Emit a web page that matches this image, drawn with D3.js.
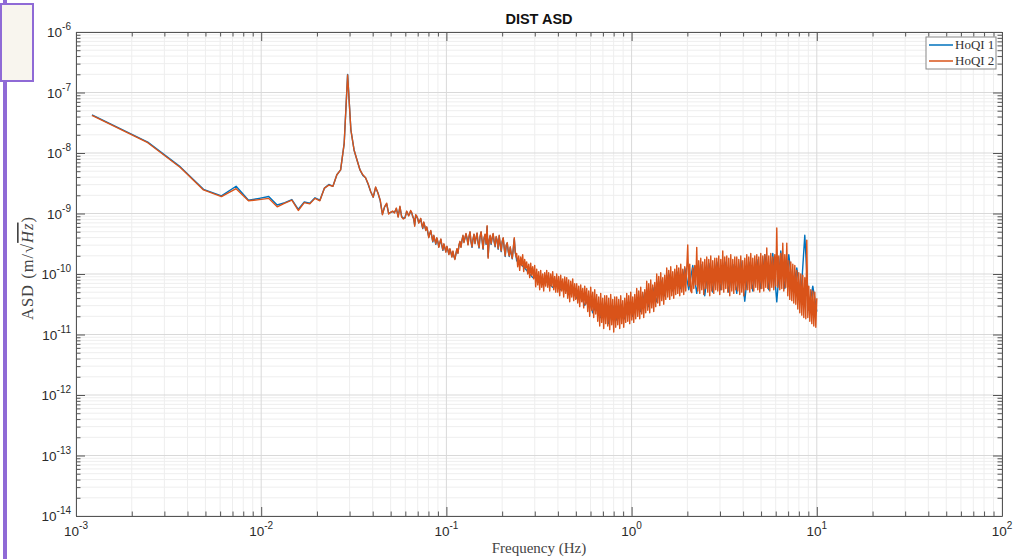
<!DOCTYPE html>
<html>
<head>
<meta charset="utf-8">
<script src="https://cdn.jsdelivr.net/npm/d3@7"></script>
<style>
    html, body { margin: 0; padding: 0; background: #fff; }
    svg { display: block; }
</style>
</head>
<body>
<div id="chart"></div>
<script>
// spectrum bin width (Hz)
const DF = 0.00122;

// first 49 bins (f = n * DF), log10 of ASD in m/sqrt(Hz)
const hoqi1Low = [
    -7.37, -7.82, -8.23, -8.60, -8.71, -8.55, -8.78, -8.75, -8.72, -8.86,
    -8.82, -8.77, -8.93, -8.81, -8.83, -8.74, -8.78, -8.58, -8.52, -8.55,
    -8.36, -8.28, -7.84, -6.70, -7.62, -7.95, -8.12, -8.28, -8.37, -8.41,
    -8.52, -8.64, -8.73, -8.57, -8.66, -8.79, -9.01, -8.89, -8.84, -9.00,
    -8.98, -8.97, -8.98, -8.92, -9.05, -8.89, -9.05, -9.08, -9.07
];
const hoqi2Low = [
    -7.38, -7.83, -8.24, -8.61, -8.72, -8.59, -8.79, -8.77, -8.75, -8.89,
    -8.83, -8.78, -8.95, -8.82, -8.84, -8.75, -8.79, -8.58, -8.53, -8.55,
    -8.36, -8.28, -7.84, -6.71, -7.62, -7.95, -8.12, -8.28, -8.36, -8.41,
    -8.51, -8.64, -8.73, -8.56, -8.66, -8.78, -9.02, -8.89, -8.83, -9.01,
    -8.98, -8.96, -8.99, -8.91, -9.06, -8.88, -9.06, -9.09, -9.07
];

// denser parts, each spread evenly in log f over its range (log10 ASD)
const MID_RANGE = [0.0610, 0.2384];
const HIGH_RANGE = [0.2396, 10];

const hoqi1Mid = [
    -8.97, -9.00, -9.03, -9.01, -8.96, -8.99, -9.04, -9.09, -9.19, -9.03,
    -9.05, -9.09, -9.15, -9.13, -9.09, -9.17, -9.25, -9.15, -9.21, -9.27,
    -9.23, -9.31, -9.39, -9.34, -9.29, -9.37, -9.47, -9.37, -9.43, -9.51,
    -9.41, -9.47, -9.55, -9.49, -9.43, -9.53, -9.61, -9.51, -9.57, -9.63,
    -9.55, -9.61, -9.67, -9.59, -9.65, -9.71, -9.63, -9.71, -9.75, -9.67,
    -9.59, -9.65, -9.53, -9.47, -9.55, -9.45, -9.37, -9.47, -9.41, -9.34,
    -9.41, -9.51, -9.39, -9.31, -9.47, -9.56, -9.43, -9.35, -9.49, -9.41,
    -9.33, -9.49, -9.57, -9.39, -9.31, -9.45, -9.59, -9.41, -9.35, -9.51,
    -9.22, -9.72, -9.45, -9.37, -9.51, -9.41, -9.34, -9.47, -9.55, -9.39,
    -9.45, -9.59, -9.37, -9.51, -9.63, -9.47, -9.41, -9.57, -9.71, -9.53,
    -9.49, -9.63, -9.71, -9.56, -9.67, -9.75, -9.59, -9.42, -9.65, -9.73
];
const hoqi1High = [
    -9.78, -9.84,
    -9.90, -9.98, -10.06, -10.04, -10.14, -10.10, -10.16, -10.22, -10.18, -10.26,
    -10.20, -10.34, -10.28, -10.40, -10.34, -10.52, -10.40, -10.64, -10.50, -10.72,
    -10.48, -10.82, -10.52, -10.76, -10.50, -10.74, -10.46, -10.70, -10.40, -10.62,
    -10.30, -10.54, -10.22, -10.46, -10.10, -10.36, -10.00, -10.28, -9.96, -10.24,
    -9.90, -10.26, -9.86, -10.32, -9.84, -10.36, -9.82, -10.30, -9.80, -10.26,
    -9.80, -10.30, -9.84, -10.32, -9.78, -10.45, -9.80, -10.28, -9.76, -10.24,
    -9.68, -10.26, -9.66, -10.46, -9.62, -10.24, -9.68, -10.28, -9.90, -10.40,
    -9.36, -10.60, -10.20, -10.62
];

const hoqi2Mid = [
    -8.96, -8.99, -9.04, -9.00, -8.95, -8.98, -9.05, -9.08, -9.21, -9.02,
    -9.04, -9.08, -9.16, -9.12, -9.08, -9.18, -9.24, -9.14, -9.20, -9.28,
    -9.22, -9.30, -9.40, -9.33, -9.28, -9.38, -9.46, -9.36, -9.44, -9.50,
    -9.40, -9.46, -9.56, -9.48, -9.42, -9.52, -9.60, -9.50, -9.56, -9.64,
    -9.54, -9.60, -9.68, -9.58, -9.64, -9.72, -9.62, -9.70, -9.76, -9.66,
    -9.58, -9.66, -9.52, -9.46, -9.56, -9.44, -9.36, -9.48, -9.40, -9.33,
    -9.40, -9.52, -9.38, -9.30, -9.46, -9.55, -9.42, -9.34, -9.50, -9.40,
    -9.32, -9.48, -9.56, -9.38, -9.30, -9.44, -9.58, -9.40, -9.34, -9.50,
    -9.20, -9.74, -9.44, -9.36, -9.50, -9.40, -9.33, -9.46, -9.54, -9.38,
    -9.44, -9.58, -9.36, -9.50, -9.62, -9.46, -9.40, -9.56, -9.70, -9.52,
    -9.48, -9.62, -9.70, -9.55, -9.66, -9.74, -9.58, -9.40, -9.64, -9.72
];
const hoqi2High = [
    -9.66, -9.88, -9.70, -9.94, -9.72, -9.86, -9.68, -9.96, -9.76, -9.90,
    -9.80, -10.00, -9.84, -10.06, -9.82, -10.02, -9.88, -10.08, -9.86, -10.21,
    -9.92, -10.18, -9.96, -10.26, -9.94, -10.22, -10.00, -10.28, -9.98, -10.20,
    -9.94, -10.22, -9.98, -10.28, -10.00, -10.20, -9.96, -10.26, -10.04, -10.30,
    -10.00, -10.30, -10.04, -10.36, -10.02, -10.28, -10.08, -10.38, -10.05, -10.32,
    -10.06, -10.40, -10.10, -10.46, -10.12, -10.38, -10.08, -10.44, -10.16, -10.42,
    -10.16, -10.48, -10.20, -10.54, -10.18, -10.46, -10.24, -10.56, -10.20, -10.50,
    -10.24, -10.62, -10.28, -10.70, -10.22, -10.60, -10.30, -10.72, -10.26, -10.66,
    -10.34, -10.78, -10.38, -10.86, -10.32, -10.80, -10.40, -10.90, -10.36, -10.82,
    -10.36, -10.86, -10.40, -10.92, -10.34, -10.84, -10.42, -10.96, -10.38, -10.88,
    -10.38, -10.84, -10.42, -10.90, -10.36, -10.82, -10.44, -10.88, -10.40, -10.80,
    -10.32, -10.78, -10.36, -10.82, -10.30, -10.76, -10.38, -10.80, -10.34, -10.74,
    -10.24, -10.70, -10.28, -10.74, -10.22, -10.66, -10.30, -10.72, -10.26, -10.64,
    -10.12, -10.60, -10.16, -10.64, -10.10, -10.56, -10.18, -10.62, -10.14, -10.54,
    -10.00, -10.48, -10.04, -10.52, -9.98, -10.44, -10.06, -10.50, -10.02, -10.42,
    -9.90, -10.38, -9.94, -10.42, -9.88, -10.36, -9.96, -10.40, -9.92, -10.34,
    -9.86, -10.32, -9.90, -10.36, -9.84, -10.30, -9.92, -10.34, -9.88, -10.28,
    -9.90, -9.52, -10.20, -9.84, -10.28, -10.31, -9.90, -10.24, -9.86, -10.18,
    -9.56, -10.28, -9.78, -10.32, -9.74, -10.26, -9.80, -10.34, -9.76, -10.24,
    -9.72, -10.30, -9.76, -10.36, -9.70, -10.28, -9.78, -10.32, -9.74, -10.26,
    -9.74, -10.28, -9.70, -10.34, -9.76, -10.26, -9.62, -10.30, -9.72, -10.24,
    -9.70, -10.30, -9.74, -10.36, -9.68, -10.28, -9.76, -10.32, -9.72, -10.26,
    -9.72, -10.28, -9.76, -10.34, -9.70, -10.30, -9.78, -10.36, -9.74, -10.26,
    -9.68, -10.26, -9.72, -10.30, -9.66, -10.24, -9.74, -10.28, -9.70, -10.22,
    -9.68, -10.26, -9.72, -10.30, -9.66, -10.24, -9.70, -10.28, -9.68, -10.22,
    -9.57, -10.24, -9.70, -10.28, -9.66, -10.22, -9.72, -10.26, -9.68, -10.20,
    -9.24, -10.22, -9.70, -10.26, -9.66, -10.24, -9.49, -10.28, -9.68, -10.22,
    -9.49, -10.36, -9.78, -10.42, -9.80, -10.44, -9.84, -10.48, -9.86, -10.50,
    -9.94, -10.58, -9.98, -10.64, -10.00, -10.68, -10.02, -10.72, -10.06, -10.74,
    -9.44, -10.72, -10.20, -10.78, -10.26, -10.82, -10.28, -10.86, -10.30, -10.88,
    -10.40
];

const seriesNames = ['HoQI 1', 'HoQI 2'];
const seriesColors = ['#0072BD', '#D95319'];
const xTickExps = [-3, -2, -1, 0, 1, 2];
const yTickExps = [-14, -13, -12, -11, -10, -9, -8, -7, -6];

const spread = (values, range) => {
    const n = values.length;
    return values.map((v, i) => ({
        f: range[0] * Math.pow(range[1] / range[0], i / (n - 1)),
        v: Math.pow(10, v)
    }));
};
const toPoints = (low, mid, high) => {
    const pts = low.map((v, i) => ({ f: (i + 1) * DF, v: Math.pow(10, v) }));
    return pts.concat(spread(mid, MID_RANGE), spread(high, HIGH_RANGE));
};

const series = [
    toPoints(hoqi1Low, hoqi1Mid, hoqi1High),
    toPoints(hoqi2Low, hoqi2Mid, hoqi2High)
];

const W = 1024;
const H = 559;
const plotLeft = 76, plotRight = 1002, plotTop = 32, plotBottom = 516;
const AXIS = '#555';
const TXT = '#2b2b2b';

const svg = d3.select('#chart').append('svg').attr('width', W).attr('height', H);

// slide decoration on the left
svg.append('rect').attr('x', 3).attr('y', 0).attr('width', 4).attr('height', H).attr('fill', '#8f6ad6');
svg.append('rect')
    .attr('x', 1).attr('y', 4).attr('width', 32).attr('height', 77)
    .attr('fill', '#f8f5ee').attr('stroke', '#8f6ad6').attr('stroke-width', 2);

const x = d3.scaleLog().domain([1e-3, 1e2]).range([plotLeft, plotRight]);
const y = d3.scaleLog().domain([1e-14, 1e-6]).range([plotBottom, plotTop]);

const isMajor = (d) => Math.abs(Math.log10(d) - Math.round(Math.log10(d))) < 1e-9;
const xMajor = xTickExps.map((e) => Math.pow(10, e));
const yMajor = yTickExps.map((e) => Math.pow(10, e));
const xMinor = x.ticks().filter((d) => !isMajor(d));
const yMinor = y.ticks().filter((d) => !isMajor(d));

// grid
const grid = svg.append('g');
grid.selectAll('line.xmin').data(xMinor).enter().append('line')
    .attr('x1', (d) => x(d)).attr('x2', (d) => x(d)).attr('y1', plotTop).attr('y2', plotBottom)
    .attr('stroke', '#eeeeee');
grid.selectAll('line.ymin').data(yMinor).enter().append('line')
    .attr('y1', (d) => y(d)).attr('y2', (d) => y(d)).attr('x1', plotLeft).attr('x2', plotRight)
    .attr('stroke', '#eeeeee');
grid.selectAll('line.xmaj').data(xMajor).enter().append('line')
    .attr('x1', (d) => x(d)).attr('x2', (d) => x(d)).attr('y1', plotTop).attr('y2', plotBottom)
    .attr('stroke', '#d9d9d9');
grid.selectAll('line.ymaj').data(yMajor).enter().append('line')
    .attr('y1', (d) => y(d)).attr('y2', (d) => y(d)).attr('x1', plotLeft).attr('x2', plotRight)
    .attr('stroke', '#d9d9d9');

// traces
const line = d3.line().x((d) => x(d.f)).y((d) => y(d.v));
series.forEach((pts, i) => {
    svg.append('path')
        .datum(pts)
        .attr('fill', 'none')
        .attr('stroke', seriesColors[i])
        .attr('stroke-width', 1.4)
        .attr('stroke-linejoin', 'round')
        .attr('d', line);
});

// axes: ticks inward on all four sides
const drawAxis = (axisFn, scale, transform) => {
    const gMaj = svg.append('g').attr('transform', transform)
        .call(axisFn(scale).tickValues(scale === x ? xMajor : yMajor).tickSize(-9).tickSizeOuter(0).tickFormat(''));
    const gMin = svg.append('g').attr('transform', transform)
        .call(axisFn(scale).tickValues(scale === x ? xMinor : yMinor).tickSize(-4.5).tickSizeOuter(0).tickFormat(''));
    gMin.select('.domain').remove();
    [gMaj, gMin].forEach((g) => {
        g.selectAll('line').attr('stroke', AXIS);
        g.select('.domain').attr('stroke', AXIS);
    });
};
drawAxis(d3.axisBottom, x, `translate(0,${plotBottom})`);
drawAxis(d3.axisTop, x, `translate(0,${plotTop})`);
drawAxis(d3.axisLeft, y, `translate(${plotLeft},0)`);
drawAxis(d3.axisRight, y, `translate(${plotRight},0)`);

// tick labels as 10^n
const font = 'Liberation Sans, Arial, Helvetica, sans-serif';
xTickExps.forEach((e) => {
    const t = svg.append('text')
        .attr('x', x(Math.pow(10, e)))
        .attr('y', plotBottom + 20)
        .attr('text-anchor', 'middle')
        .style('font-family', font)
        .style('font-size', '13.5px')
        .style('fill', TXT);
    t.append('tspan').text('10');
    t.append('tspan').attr('dy', -7).style('font-size', '10px').text(e);
});
yTickExps.forEach((e) => {
    const t = svg.append('text')
        .attr('x', plotLeft - 5)
        .attr('y', y(Math.pow(10, e)) + 5)
        .attr('text-anchor', 'end')
        .style('font-family', font)
        .style('font-size', '13.5px')
        .style('fill', TXT);
    t.append('tspan').text('10');
    t.append('tspan').attr('dy', -7).style('font-size', '10px').text(e);
});

// title
svg.append('text')
    .attr('x', (plotLeft + plotRight) / 2)
    .attr('y', 24)
    .attr('text-anchor', 'middle')
    .style('font-family', font)
    .style('font-weight', 'bold')
    .style('font-size', '14.5px')
    .style('fill', '#111')
    .text('DIST ASD');

// axis labels
const serif = 'Liberation Serif, Times New Roman, serif';
svg.append('text')
    .attr('x', 539)
    .attr('y', 553)
    .attr('text-anchor', 'middle')
    .style('font-family', serif)
    .style('font-size', '15px')
    .style('fill', '#444')
    .text('Frequency (Hz)');

const yl = svg.append('text')
    .attr('transform', 'translate(33,268) rotate(-90)')
    .attr('text-anchor', 'middle')
    .style('font-family', serif)
    .style('font-size', '16.5px')
    .style('letter-spacing', '1px')
    .style('fill', '#444');
yl.append('tspan').text('ASD (m/\u221A');
yl.append('tspan').style('font-style', 'italic').style('text-decoration', 'overline').text('Hz');
yl.append('tspan').text(')');

// legend
const legend = svg.append('g');
legend.append('rect')
    .attr('x', 926).attr('y', 37).attr('width', 70).attr('height', 32)
    .attr('fill', '#fff').attr('stroke', '#888').attr('stroke-width', 1);
seriesNames.forEach((name, i) => {
    const ly = 45 + i * 16;
    legend.append('line')
        .attr('x1', 929).attr('x2', 953).attr('y1', ly).attr('y2', ly)
        .attr('stroke', seriesColors[i]).attr('stroke-width', 1.5);
    legend.append('text')
        .attr('x', 955).attr('y', ly + 4)
        .style('font-family', serif)
        .style('font-size', '13px')
        .style('fill', '#333')
        .text(name);
});
</script>
</body>
</html>
